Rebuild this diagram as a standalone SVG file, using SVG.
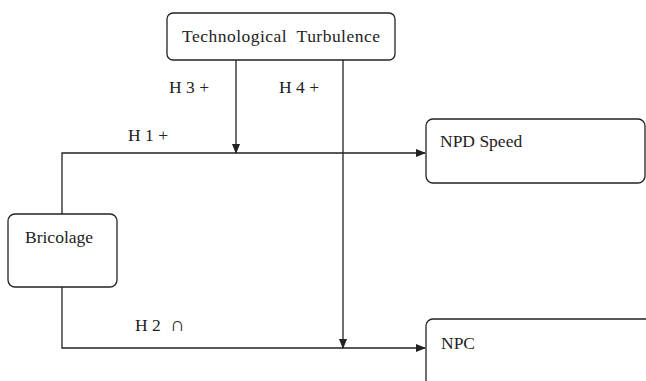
<svg xmlns="http://www.w3.org/2000/svg" width="646" height="381" viewBox="0 0 646 381">
<defs>
<marker id="arr" markerWidth="10" markerHeight="10" refX="9" refY="5" orient="auto" markerUnits="userSpaceOnUse">
<path d="M0,1 L10,5 L0,9 Z" fill="#222"/>
</marker>
</defs>
<style>
.box{fill:#fff;stroke:#222;stroke-width:1.3}
.ln{fill:none;stroke:#222;stroke-width:1.3}
text{font-family:"Liberation Serif","Times New Roman",serif;font-size:17.5px;fill:#222}
</style>
<rect width="646" height="381" fill="#fff"/>
<g id="connectors">
<path class="ln" d="M62,214 V153 H425" marker-end="url(#arr)"/>
<path class="ln" d="M62,287 V348 H425" marker-end="url(#arr)"/>
<path class="ln" d="M236,60 V153" marker-end="url(#arr)"/>
<path class="ln" d="M343,60 V348" marker-end="url(#arr)"/>
<text x="169" y="93">H 3 +</text>
<text x="279" y="93">H 4 +</text>
<text x="128" y="141">H 1 +</text>
<text x="135" y="331">H 2 <tspan x="170" style="font-size:20px">∩</tspan></text>
</g>
<g id="tech">
<rect class="box" x="167" y="13" width="228" height="47" rx="6"/>
<text x="182" y="42" textLength="198" lengthAdjust="spacing" xml:space="preserve">Technological  Turbulence</text>
</g>
<g id="bricolage">
<rect class="box" x="8" y="214" width="109" height="73" rx="7"/>
<text x="25" y="243">Bricolage</text>
</g>
<g id="npdspeed">
<rect class="box" x="426" y="119" width="219" height="64" rx="7"/>
<text x="440" y="147">NPD Speed</text>
</g>
<g id="npc">
<rect class="box" x="426" y="319" width="240" height="80" rx="7"/>
<text x="441" y="349">NPC</text>
</g>
</svg>
